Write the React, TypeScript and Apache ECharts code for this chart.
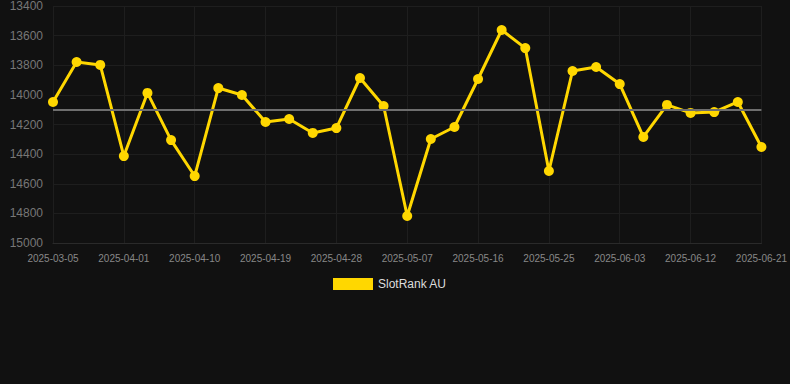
import React, { useEffect, useRef } from "react";
import * as echarts from "echarts";

const dates = [
  "2025-03-05", "2025-03-14", "2025-03-23", "2025-04-01", "2025-04-04", "2025-04-07",
  "2025-04-10", "2025-04-13", "2025-04-16", "2025-04-19", "2025-04-22", "2025-04-25",
  "2025-04-28", "2025-05-01", "2025-05-04", "2025-05-07", "2025-05-10", "2025-05-13",
  "2025-05-16", "2025-05-19", "2025-05-22", "2025-05-25", "2025-05-28", "2025-05-31",
  "2025-06-03", "2025-06-06", "2025-06-09", "2025-06-12", "2025-06-15", "2025-06-18",
  "2025-06-21",
];

const ranks = [
  14048, 13778, 13798, 14413, 13987, 14305, 14548, 13954, 14001, 14183, 14163, 14257,
  14224, 13886, 14075, 14818, 14298, 14217, 13893, 13562, 13684, 14514, 13839, 13812,
  13927, 14284, 14068, 14122, 14116, 14048, 14352,
];

const seriesName = "SlotRank AU";
const yMin = 13400;
const yMax = 15000;
const yInterval = 200;

export default function App() {
  const ref = useRef<HTMLDivElement>(null);
  useEffect(() => {
    if (!ref.current) return;
    const chart = echarts.init(ref.current, undefined, { renderer: "svg" });
    chart.setOption({
      animation: false,
      backgroundColor: "#111111",
      grid: { left: 53, right: 28, top: 6, bottom: 141 },
      legend: {
        data: [seriesName],
        top: 273,
        left: 328,
        itemWidth: 40,
        itemHeight: 12,
        icon: "rect",
        textStyle: { color: "#dddddd", fontSize: 12, fontFamily: "Arial, Liberation Sans, sans-serif" },
      },
      xAxis: {
        type: "category",
        data: dates,
        boundaryGap: false,
        axisLine: { show: true, lineStyle: { color: "#2a2a2a" } },
        axisTick: { show: false },
        axisLabel: {
          interval: 2,
          color: "#888888",
          fontSize: 10,
          margin: 10,
          fontFamily: "Arial, Liberation Sans, sans-serif",
        },
        splitLine: { show: true, interval: 2, lineStyle: { color: "#1e1e1e", width: 1 } },
      },
      yAxis: {
        type: "value",
        inverse: true,
        min: yMin,
        max: yMax,
        interval: yInterval,
        axisLine: { show: false },
        axisTick: { show: false },
        axisLabel: {
          color: "#777777",
          fontSize: 12,
          margin: 10,
          formatter: (v: number) => String(v),
          fontFamily: "Arial, Liberation Sans, sans-serif",
        },
        splitLine: { show: true, lineStyle: { color: "#1e1e1e", width: 1 } },
      },
      series: [
        {
          name: seriesName,
          type: "line",
          data: ranks,
          symbol: "circle",
          symbolSize: 10,
          lineStyle: { color: "#FFD700", width: 3 },
          itemStyle: { color: "#FFD700" },
          markLine: {
            silent: true,
            symbol: "none",
            label: { show: false },
            lineStyle: { color: "#6e6e6e", width: 2, type: "solid" },
            data: [{ type: "average" }],
          },
        },
      ],
    });
    return () => chart.dispose();
  }, []);
  return <div ref={ref} style={{ position: "fixed", left: 0, top: 0, width: 790, height: 384 }} />;
}
